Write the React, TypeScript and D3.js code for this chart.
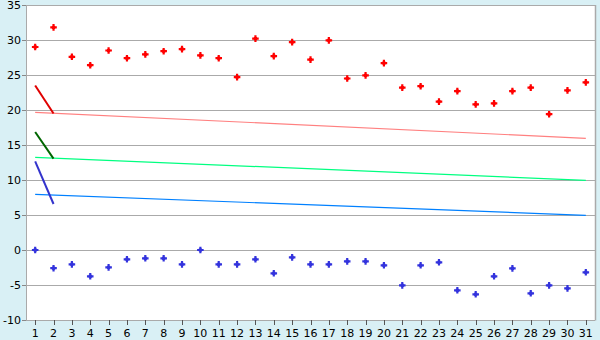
import React from "react";
import * as d3 from "d3";

const categories: number[] = d3.range(1, 32);
const yTicks: number[] = [-10, -5, 0, 5, 10, 15, 20, 25, 30, 35];

const highValues: number[] = [
  29.0, 31.8, 27.6, 26.4, 28.5, 27.4, 27.95, 28.4, 28.7, 27.8,
  27.4, 24.7, 30.2, 27.7, 29.7, 27.2, 29.95, 24.5, 24.95, 26.7,
  23.2, 23.4, 21.2, 22.7, 20.8, 20.95, 22.7, 23.2, 19.4, 22.8, 23.95,
];
const lowValues: number[] = [
  0, -2.6, -2.05, -3.76, -2.48, -1.33, -1.19, -1.19, -2.05, 0,
  -2.05, -2.05, -1.33, -3.33, -1.05, -2.05, -2.05, -1.62, -1.62, -2.19,
  -5.05, -2.19, -1.76, -5.76, -6.33, -3.76, -2.62, -6.19, -5.05, -5.48, -3.19,
];

// trend lines: [start at day 1, end at day 31]
const trendHigh: [number, number] = [19.67, 15.95];
const trendMid: [number, number] = [13.24, 9.95];
const trendLow: [number, number] = [7.95, 4.95];

// short segments from day 1 to day 2
const segHigh: [number, number] = [23.5, 19.5];
const segMid: [number, number] = [16.85, 13.05];
const segLow: [number, number] = [12.67, 6.57];

const W = 600;
const H = 340;
const left = 26;
const right = 595;
const top = 5;
const bottom = 320;

export default function App() {
  const x = d3
    .scaleBand<number>()
    .domain(categories)
    .range([left, right])
    .padding(0);
  const cx = (d: number) => (x(d) as number) + x.bandwidth() / 2;
  const y = d3.scaleLinear().domain([-10, 35]).range([bottom, top]);

  const cross = d3.symbol().type(d3.symbolCross).size(24)() as string;
  const diamond = d3.symbol().type(d3.symbolSquare).size(10)() as string;
  const font = "DejaVu Sans, Verdana, sans-serif";

  const line = d3
    .line<[number, number]>()
    .x((d) => cx(d[0]))
    .y((d) => y(d[1]));

  const trends = [
    { v: trendHigh, c: "#ff8080" },
    { v: trendMid, c: "#00ff80" },
    { v: trendLow, c: "#0080ff" },
  ];
  const segs = [
    { v: segHigh, c: "#e00000" },
    { v: segMid, c: "#006600" },
    { v: segLow, c: "#3333cc" },
  ];

  const marker = (v: number, i: number, color: string, k: string) => (
    <g key={k} transform={`translate(${cx(categories[i])},${y(v)})`} fill={color}>
      <path d={cross} />
      <path d={diamond} />
    </g>
  );

  return (
    <svg
      width={W}
      height={H}
      style={{ position: "absolute", left: 0, top: 0, display: "block" }}
    >
      <rect x={0} y={0} width={W} height={H} fill="#d9f0f5" />
      <rect x={left} y={top} width={right - left} height={bottom - top} fill="#ffffff" />
      {yTicks.map((t) => (
        <g key={t}>
          <line
            x1={left}
            x2={right}
            y1={Math.round(y(t)) + 0.5}
            y2={Math.round(y(t)) + 0.5}
            stroke="#aaaaaa"
            strokeWidth={1}
          />
          <line
            x1={left - 4}
            x2={left}
            y1={Math.round(y(t)) + 0.5}
            y2={Math.round(y(t)) + 0.5}
            stroke="#888"
          />
          <text
            x={left - 5}
            y={y(t)}
            dy="0.35em"
            textAnchor="end"
            fontFamily={font}
            fontSize={11}
            fill="#000"
          >
            {t}
          </text>
        </g>
      ))}
      <line x1={left + 0.5} x2={left + 0.5} y1={top} y2={bottom} stroke="#aaaaaa" />
      <line x1={right + 0.5} x2={right + 0.5} y1={top} y2={bottom + 0.5} stroke="#aaaaaa" strokeWidth={1.5} />
      <line x1={left} x2={right} y1={bottom + 0.5} y2={bottom + 0.5} stroke="#aaaaaa" />
      {categories.map((c) => (
        <g key={c}>
          <line
            x1={Math.round(cx(c)) + 0.5}
            x2={Math.round(cx(c)) + 0.5}
            y1={bottom}
            y2={bottom + 5}
            stroke="#555"
          />
          <text
            x={cx(c)}
            y={bottom + 17}
            textAnchor="middle"
            fontFamily={font}
            fontSize={11}
            fill="#000"
          >
            {c}
          </text>
        </g>
      ))}
      {trends.map((t, i) => (
        <path
          key={"t" + i}
          d={line([
            [1, t.v[0]],
            [31, t.v[1]],
          ]) as string}
          stroke={t.c}
          strokeWidth={1.2}
          fill="none"
        />
      ))}
      {segs.map((s, i) => (
        <path
          key={"s" + i}
          d={line([
            [1, s.v[0]],
            [2, s.v[1]],
          ]) as string}
          stroke={s.c}
          strokeWidth={2}
          fill="none"
        />
      ))}
      {highValues.map((v, i) => marker(v, i, "#ff0000", "h" + i))}
      {lowValues.map((v, i) => marker(v, i, "#3333dd", "l" + i))}
    </svg>
  );
}
